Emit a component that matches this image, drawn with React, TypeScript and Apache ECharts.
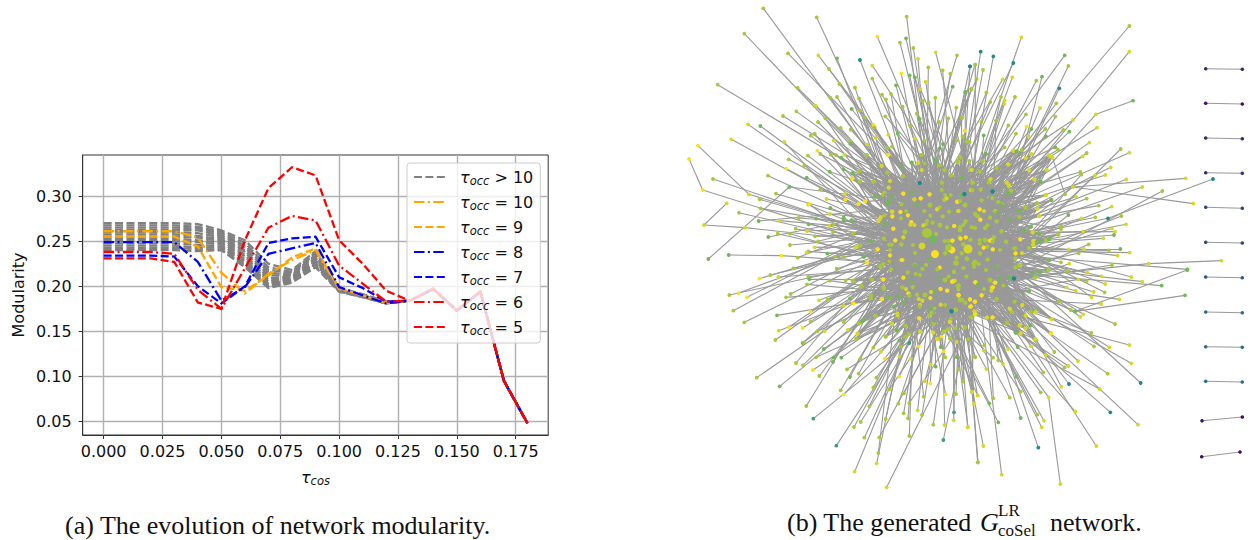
import React, { useEffect, useRef } from "react";
import * as echarts from "echarts";

const tauCos = [0, 0.01, 0.02, 0.03, 0.04, 0.05, 0.06, 0.07, 0.08, 0.09, 0.1, 0.11, 0.12, 0.13, 0.14, 0.15, 0.16, 0.17, 0.18];
const xTicks = [0, 0.025, 0.05, 0.075, 0.1, 0.125, 0.15, 0.175];
const yTicks = [0.05, 0.1, 0.15, 0.2, 0.25, 0.3];
const tail = [0.184, 0.197, 0.173, 0.194, 0.095, 0.048];

const occ5 = [0.231, 0.231, 0.231, 0.227, 0.182, 0.175, 0.251, 0.309, 0.332, 0.323, 0.251, 0.225, 0.195];
const occ6 = [0.238, 0.238, 0.238, 0.236, 0.196, 0.175, 0.22, 0.265, 0.278, 0.273, 0.223, 0.203, 0.183];
const occ7 = [0.234, 0.234, 0.234, 0.233, 0.2, 0.181, 0.2, 0.248, 0.253, 0.255, 0.21, 0.198, 0.183];
const occ8 = [0.249, 0.249, 0.249, 0.249, 0.227, 0.184, 0.199, 0.236, 0.242, 0.248, 0.199, 0.19, 0.181];
const occ9 = [0.255, 0.255, 0.255, 0.255, 0.244, 0.199, 0.195, 0.212, 0.232, 0.242, 0.198, 0.19, 0.182];
const occ10 = [0.261, 0.261, 0.261, 0.261, 0.254, 0.215, 0.192, 0.214, 0.229, 0.24, 0.197, 0.19, 0.181];
const grayRows = [
  [0.24, 0.24, 0.24, 0.24, 0.239, 0.24, 0.221, 0.198, 0.204, 0.221, 0.194, 0.188, 0.181],
  [0.2425, 0.2425, 0.2425, 0.2425, 0.241, 0.241, 0.223, 0.199, 0.205, 0.223, 0.194, 0.188, 0.181],
  [0.245, 0.245, 0.245, 0.245, 0.243, 0.243, 0.225, 0.2, 0.206, 0.225, 0.195, 0.188, 0.181],
  [0.2475, 0.2475, 0.2475, 0.2475, 0.246, 0.244, 0.228, 0.202, 0.207, 0.226, 0.195, 0.189, 0.181],
  [0.25, 0.25, 0.25, 0.25, 0.249, 0.246, 0.23, 0.203, 0.208, 0.228, 0.195, 0.189, 0.182],
  [0.2525, 0.2525, 0.2525, 0.2525, 0.251, 0.248, 0.233, 0.205, 0.209, 0.229, 0.196, 0.189, 0.182],
  [0.255, 0.255, 0.255, 0.255, 0.254, 0.25, 0.235, 0.207, 0.21, 0.231, 0.196, 0.19, 0.182],
  [0.2575, 0.2575, 0.2575, 0.2575, 0.256, 0.252, 0.238, 0.209, 0.211, 0.232, 0.196, 0.19, 0.182],
  [0.26, 0.26, 0.26, 0.26, 0.259, 0.254, 0.24, 0.212, 0.212, 0.234, 0.197, 0.19, 0.182],
  [0.2625, 0.2625, 0.2625, 0.2625, 0.262, 0.256, 0.243, 0.215, 0.213, 0.235, 0.197, 0.19, 0.182],
  [0.265, 0.265, 0.265, 0.265, 0.264, 0.258, 0.245, 0.218, 0.215, 0.236, 0.197, 0.191, 0.183],
  [0.2675, 0.2675, 0.2675, 0.2675, 0.266, 0.26, 0.248, 0.221, 0.216, 0.238, 0.198, 0.191, 0.183],
  [0.27, 0.27, 0.27, 0.27, 0.269, 0.262, 0.251, 0.225, 0.218, 0.239, 0.198, 0.191, 0.183],
];

const Y = "#fde01c", L = "#d5d829", G = "#a8c83c", M = "#74b75a", S = "#3ea07c", T = "#1f8a8c";

// Positions, in the 3x crop coordinates of each quarter.
const nodesNW: any[] = [[250,25,G],[410,52,G],[680,50,G],[193,101,G],[592,110,Y],[660,128,G],[678,115,M],[700,144,G],[324,160,G],[415,166,L],[471,175,M],[540,180,T],[767,157,L],[831,166,G],[714,176,L],[577,197,L],[447,207,G],[745,202,G],[788,211,G],[811,221,G],[870,199,T],[885,194,G],[664,220,Y],[689,226,M],[705,232,M],[737,245,L],[577,236,G],[478,252,G],[113,254,G],[353,264,G],[525,263,G],[648,256,M],[721,267,L],[818,260,M],[874,267,G],[856,276,M],[606,284,G],[633,282,G],[471,291,G],[451,293,G],[537,295,G],[618,298,G],[766,293,G],[729,303,G],[746,308,G],[407,317,L],[668,320,G],[829,323,G],[349,334,G],[515,327,M],[540,331,G],[710,341,G],[309,348,G],[436,355,G],[554,352,G],[616,349,G],[719,357,M],[805,355,G],[845,354,G],[777,366,G],[414,366,G],[204,373,L],[241,378,M],[580,375,Y],[691,377,G],[584,382,G],[482,384,G],[512,389,G],[854,392,Y],[392,407,G],[404,401,G],[625,404,L],[653,401,M],[587,414,L],[705,416,L],[849,409,G],[154,418,L],[313,426,L],[461,422,L],[511,422,G],[733,422,G],[831,421,G],[860,425,G],[868,426,G],[54,437,Y],[511,432,M],[561,433,L],[789,432,M],[621,444,G],[636,440,G],[779,445,M],[412,452,Y],[421,462,G],[452,464,G],[468,465,G],[493,464,L],[484,473,M],[560,465,G],[624,465,L],[725,465,G],[842,473,G],[27,477,Y],[384,467,G],[326,478,G],[768,481,M],[836,486,L],[714,488,L],[734,491,G],[695,488,M],[605,497,L],[778,496,G],[373,496,G],[491,508,M],[319,506,Y],[449,515,M],[538,514,G],[622,517,G],[517,520,M],[794,510,G],[874,510,L],[726,512,G],[264,527,G],[99,537,G],[380,533,M],[516,536,Y],[670,529,G],[813,526,G],[580,545,G],[540,544,G],[630,543,G],[719,549,T],[846,534,M],[786,548,G],[878,548,G],[328,561,M],[626,563,L],[68,570,Y],[872,570,L],[853,582,T],[421,568,G],[288,581,G],[207,583,L],[495,582,L],[612,578,G],[670,581,Y],[748,583,L],[812,585,G],[722,595,Y],[440,597,L],[239,598,G],[496,599,Y],[555,604,L],[703,598,L],[793,600,L],[831,606,L],[586,590,G],[384,614,L],[388,612,Y],[536,612,L],[140,610,L],[242,625,G],[451,624,M],[628,606,M],[620,612,M],[665,613,M],[711,613,M],[177,638,G],[450,642,L],[356,654,G],[408,656,M],[491,652,M],[514,662,M],[491,660,M],[298,662,L],[236,663,M],[662,636,L],[636,636,L],[637,650,L],[600,656,L],[596,663,L],[72,675,L],[386,673,M],[448,678,L],[461,673,G],[615,672,M],[195,683,L],[347,686,G],[381,693,L],[640,686,Y],[459,696,G],[293,701,G],[330,701,G],[519,701,G],[405,709,G],[265,711,M],[414,724,G],[611,715,G],[671,711,M],[572,724,M],[330,735,G],[540,737,G],[404,742,L],[530,741,L],[645,721,L],[664,733,L],[593,747,L],[385,754,G],[380,758,L],[442,761,M],[146,765,M],[304,767,Y],[465,770,G],[490,770,G],[550,770,M],[353,773,G],[668,780,L],[85,777,M],[560,787,L],[628,784,G],[340,805,G],[470,806,G],[600,798,G]];

const nodesNE: any[] = [[508,78,G],[184,112,L],[508,155,L],[62,155,T],[100,169,T],[314,166,M],[30,199,T],[46,194,G],[160,189,T],[69,210,G],[325,198,G],[50,237,G],[128,238,L],[157,232,L],[246,230,M],[229,242,G],[298,265,T],[34,268,G],[16,276,M],[79,278,G],[519,302,M],[165,291,G],[123,291,G],[134,301,L],[133,312,L],[91,306,G],[289,310,G],[240,324,L],[198,343,G],[408,343,L],[286,350,G],[339,360,L],[6,354,G],[64,366,G],[108,362,G],[145,376,G],[200,380,Y],[411,383,L],[214,387,M],[256,387,G],[310,390,G],[328,395,M],[14,392,Y],[168,401,G],[206,410,L],[258,409,M],[8,410,G],[71,406,M],[388,428,L],[20,425,G],[28,427,G],[134,442,G],[286,442,M],[294,449,G],[482,447,G],[185,450,G],[161,452,L],[170,455,M],[508,458,L],[78,462,M],[380,459,G],[368,469,L],[268,466,L],[277,472,L],[213,463,L],[197,475,L],[68,485,G],[144,493,L],[452,502,L],[110,506,M],[34,510,L],[208,511,L],[259,511,G],[361,516,G],[364,524,G],[60,515,G],[405,527,L],[436,525,L],[223,538,L],[241,545,G],[90,538,G],[499,538,L],[677,535,L],[140,548,Y],[88,546,Y],[37,548,L],[6,534,M],[339,561,L],[547,561,L],[146,560,G],[153,572,L],[36,571,L],[62,569,G],[97,575,T],[13,583,T],[144,579,M],[607,573,G],[315,583,G],[258,585,L],[348,590,L],[380,596,G],[274,600,G],[65,601,G],[3,586,G],[700,611,L],[230,609,G],[416,617,G],[455,620,L],[197,623,G],[232,626,L],[115,606,G],[127,612,G],[59,628,Y],[178,633,M],[325,645,M],[484,648,G],[177,650,M],[238,649,L],[107,633,L],[45,641,G],[53,648,L],[406,652,G],[364,655,L],[444,655,T],[61,659,Y],[90,653,G],[110,664,G],[150,659,M],[498,673,L],[456,685,L],[304,679,G],[212,680,M],[303,687,G],[124,694,G],[36,682,G],[76,684,G],[16,666,G],[465,695,L],[370,694,L],[218,697,L],[294,703,L],[462,705,M],[237,702,M],[430,715,L],[181,718,L],[259,722,L],[267,719,M],[238,724,M],[18,712,L],[88,722,L],[99,715,L],[59,720,G],[32,719,G],[139,726,G],[220,723,L],[219,734,L],[386,733,G],[166,744,G],[205,744,M],[326,748,L],[372,747,L],[447,751,G],[481,747,M],[509,758,L],[71,743,L],[99,748,L],[10,733,L],[166,760,L],[186,760,G],[356,760,G],[473,767,L],[60,760,G],[44,787,G],[784,782,L],[566,791,L],[456,795,G],[328,791,L],[303,787,G],[267,781,G],[21,778,G],[83,778,G],[180,797,L],[110,801,G],[682,808,M],[759,537,T]];

const nodesSW: any[] = [[238,26,Y],[271,15,G],[295,21,L],[385,20,G],[388,28,M],[148,75,G],[176,69,Y],[201,82,Y],[332,72,G],[318,82,G],[381,43,G],[449,32,G],[497,31,G],[518,32,G],[577,30,G],[609,29,Y],[545,48,G],[612,54,L],[417,91,L],[443,88,G],[510,85,M],[573,85,G],[606,87,Y],[627,83,G],[657,81,M],[491,108,L],[520,100,Y],[160,122,G],[391,124,Y],[291,136,M],[652,130,L],[587,139,G],[193,157,G],[392,154,G],[491,156,G],[535,160,G],[549,152,M],[636,161,L],[677,168,M],[296,182,L],[327,171,Y],[368,174,Y],[412,184,G],[434,183,L],[504,179,L],[652,182,G],[533,191,L],[721,184,L],[286,210,G],[530,206,G],[617,200,Y],[658,212,M],[368,219,M],[372,217,G],[663,230,G],[688,219,S],[716,229,Y],[431,237,M],[580,233,G],[603,245,L],[658,259,L],[461,263,M],[484,263,M],[541,265,G],[614,266,Y],[692,266,L],[348,279,G],[459,276,M],[369,286,G],[408,262,G],[399,300,Y],[501,298,G],[418,318,G],[536,311,G],[510,321,M],[230,323,G],[299,349,M],[589,323,G],[658,320,Y],[735,333,L],[751,340,Y],[580,352,G],[628,358,G],[482,361,G],[491,374,Y],[672,370,G],[731,380,G],[379,408,G],[655,401,G],[688,399,G],[568,409,G],[400,446,S],[617,447,G],[671,430,G],[684,445,G],[713,421,L],[726,435,G],[542,456,G],[522,471,G],[760,464,G],[794,465,L],[553,503,G],[598,502,G],[688,498,G],[469,527,S],[790,510,S],[595,549,G],[590,580,L],[524,605,L],[620,652,L],[797,373,Y],[828,372,G],[752,283,L],[767,290,M],[796,262,G],[830,261,M],[836,299,G],[849,334,G],[822,427,S],[821,451,L],[864,471,L],[893,577,G],[876,366,G],[893,376,Y],[883,401,Y],[813,123,S],[791,244,Y],[782,231,M],[830,216,L],[772,208,Y],[784,200,Y],[759,187,Y],[792,185,L],[809,156,Y],[805,179,G],[827,174,G],[717,145,L],[757,160,M],[763,115,G],[753,115,G],[885,260,G],[865,208,G],[854,171,G],[885,127,G],[873,141,M],[870,88,Y],[836,74,Y],[836,50,G],[762,68,M],[755,65,G],[781,56,Y],[801,62,Y],[820,33,Y],[885,37,Y],[884,95,Y],[870,110,Y],[720,105,Y],[716,87,L],[685,70,M],[653,137,L]];

const nodesSE: any[] = [[682,0,M],[514,21,L],[547,35,L],[605,47,M],[675,76,M],[436,42,L],[401,66,L],[434,67,G],[395,82,L],[478,88,L],[424,102,L],[355,28,L],[382,8,L],[425,19,L],[380,33,G],[347,62,L],[320,52,L],[297,95,G],[332,120,G],[346,124,M],[370,133,L],[361,141,L],[465,162,G],[394,189,G],[274,148,L],[228,127,L],[214,125,M],[197,137,L],[148,115,L],[155,126,L],[187,105,L],[508,225,L],[448,232,L],[402,229,G],[514,280,L],[273,189,L],[229,211,G],[213,229,L],[173,231,M],[144,237,L],[257,255,L],[283,246,G],[354,273,L],[325,288,L],[314,292,G],[542,339,T],[443,311,G],[250,307,G],[304,350,L],[327,342,T],[419,357,L],[182,365,G],[242,367,G],[266,382,L],[451,427,T],[346,425,L],[534,464,L],[409,528,L],[232,434,G],[252,452,L],[245,472,L],[182,444,M],[235,533,T],[115,457,M],[149,383,G],[100,385,G],[88,400,M],[169,320,M],[129,282,L],[115,271,G],[99,263,G],[73,226,G],[71,242,L],[46,262,G],[79,297,L],[37,366,L],[53,377,L],[42,402,L],[9,334,G],[23,472,L],[70,528,L],[54,577,G],[125,614,L],[301,642,L],[180,165,L],[196,175,L],[167,187,M],[182,190,Y],[140,159,G],[211,165,M],[25,210,M],[14,172,G],[81,142,L],[97,142,L],[39,135,M],[45,128,L],[33,108,L],[30,89,L],[45,95,L],[65,75,L],[110,86,G],[164,96,M],[149,22,M],[161,25,T],[118,26,M],[130,47,G],[95,52,L],[103,38,L],[46,36,L],[53,42,M],[207,62,G],[218,10,M],[239,6,G],[226,22,G],[321,3,G],[265,2,G]];

const nodesCoreW: any[] = [[50,15,G],[115,15,Y],[95,48,L],[153,50,M],[185,38,M],[205,38,L],[215,15,G],[257,30,M],[322,35,L],[268,45,G],[215,60,L],[283,60,G],[28,63,G],[8,70,M],[112,68,G],[158,78,G],[304,75,G],[6,86,Y],[70,95,G],[30,95,G],[120,93,L],[209,99,T],[275,98,G],[116,113,L],[275,120,G],[185,127,M],[160,131,Y],[239,133,Y],[98,134,G],[76,138,M],[124,140,M],[284,148,G],[193,148,L],[212,145,Y],[290,145,L],[322,156,L],[45,155,Y],[115,158,M],[25,162,Y],[154,163,G],[200,164,M],[268,172,G],[261,178,L],[223,183,G],[297,185,G],[127,185,L],[151,186,Y],[325,183,L],[174,196,Y],[103,196,G],[241,197,G],[278,199,G],[92,202,L],[87,210,L],[127,199,Y],[153,205,G],[231,213,G],[5,211,M],[248,218,G],[184,216,Y],[105,223,M],[229,222,G],[181,224,L],[193,225,L],[220,226,L],[312,228,L],[130,236,Y],[291,232,G],[160,262,L],[10,250,G],[258,252,G],[136,271,Y],[102,266,G],[62,273,M],[284,273,G],[306,272,L],[328,262,G],[295,273,G],[118,284,G],[125,284,G],[154,283,G],[189,285,G],[19,291,L],[31,286,G],[83,298,Y],[298,295,G],[195,309,G],[285,310,G],[120,316,Y],[42,320,M],[237,328,M],[155,330,Y],[52,338,Y],[100,342,G],[91,352,G],[228,345,G],[195,347,M],[269,353,Y],[217,357,G],[262,358,G],[123,358,G],[173,367,G],[312,365,G],[197,372,G],[210,375,G],[296,380,G],[160,383,Y],[268,385,M],[8,392,G],[66,390,G],[100,388,Y],[186,393,M],[309,394,Y],[323,408,G],[34,409,G],[157,412,G],[188,411,G],[101,416,G],[272,417,Y],[292,422,Y],[251,424,M],[243,426,L],[175,430,Y],[201,434,G],[325,435,Y],[178,437,G],[63,437,G],[146,441,M],[116,441,M],[62,445,G],[96,447,Y],[241,444,Y],[217,452,L],[10,460,Y],[161,458,M],[272,464,L],[209,469,G],[132,470,M],[243,476,M],[304,484,S],[316,479,G],[142,492,L],[245,488,G],[237,497,G],[77,498,G],[208,505,Y],[300,516,L],[40,511,M],[126,522,L],[27,520,G],[250,522,G],[167,527,G],[293,538,G],[280,547,G],[140,541,M],[211,545,L],[176,552,G],[23,551,L],[250,548,L],[107,560,G],[262,566,L],[19,566,G],[165,560,G]];

const nodesCoreE: any[] = [[107,12,M],[190,2,L],[200,4,M],[227,24,L],[245,12,L],[297,16,L],[306,22,L],[30,22,G],[22,35,G],[98,33,G],[58,33,G],[175,43,L],[140,55,G],[65,60,L],[90,65,G],[237,61,L],[290,60,L],[37,83,M],[3,76,G],[122,87,L],[253,88,L],[272,95,M],[116,97,G],[68,98,G],[170,98,L],[177,107,L],[67,120,G],[92,118,G],[128,124,T],[182,123,G],[175,130,M],[287,135,L],[34,135,M],[43,132,T],[127,144,G],[304,150,M],[95,151,G],[22,155,Y],[30,153,G],[145,156,G],[153,165,M],[261,160,G],[226,173,G],[262,176,L],[89,178,Y],[134,183,G],[25,183,L],[207,184,M],[75,192,G],[143,188,M],[81,197,G],[268,198,L],[120,203,G],[208,201,G],[91,209,Y],[180,208,M],[140,214,G],[47,214,G],[40,225,G],[30,231,G],[13,228,Y],[65,231,G],[105,234,G],[112,226,G],[75,234,G],[243,230,M],[155,244,G],[222,242,M],[248,247,L],[267,252,M],[325,253,G],[132,262,G],[32,266,Y],[47,262,Y],[211,268,Y],[8,272,Y],[61,270,G],[121,272,Y],[128,275,G],[168,275,G],[289,270,G],[297,267,M],[250,274,L],[40,283,G],[250,285,L],[268,273,M],[90,281,G],[112,290,G],[193,295,G],[237,294,G],[101,293,Y],[128,298,Y],[35,310,G],[90,310,G],[197,310,Y],[216,309,L],[20,323,G],[50,325,G],[196,326,G],[113,329,G],[297,330,M],[86,342,G],[71,340,G],[72,350,G],[207,346,G],[40,354,G],[139,352,M],[196,352,G],[12,366,G],[108,360,G],[295,357,G],[248,370,M],[270,366,M],[49,379,G],[255,383,G],[149,386,M],[179,382,M],[192,386,T],[136,398,Y],[14,392,L],[6,395,Y],[77,397,Y],[129,412,Y],[124,422,L],[26,406,G],[84,404,M],[25,418,G],[95,436,Y],[237,424,M],[26,436,Y],[140,447,G],[60,448,Y],[194,455,G],[75,455,Y],[37,450,G],[46,458,G],[62,470,Y],[5,484,T],[18,480,G],[217,465,L],[73,484,L],[75,493,Y],[180,477,L],[186,486,G],[227,497,L],[256,487,L],[242,485,G],[63,501,G],[111,503,L],[128,502,Y],[2,507,G],[305,507,L],[0,516,L],[171,518,G],[241,526,M],[44,533,G],[209,526,L],[226,535,L],[197,548,M],[212,550,L],[303,550,Y],[256,567,L],[55,567,G],[0,565,G]];

// Central hubs, in page pixels: x, y, diameter, colour.
const hubs: any[] = [[927,233,10,G],[933,239,8,M],[922,246,7,L],[935,254,8,Y],[949,248,8,G],[968,249,9,L],[952,250,7,Y],[956,263,6,G],[940,225,5,G],[960,230,5,G],[975,262,5,G],[915,265,5,G],[945,280,5,G],[985,240,5,G],[905,232,5,G],[930,205,5,G],[965,205,5,G],[990,280,5,G],[925,295,5,G],[960,300,5,G]];
const ringHubs: any[] = [[890,250,4,G],[1000,250,4,G],[945,195,4,G],[945,305,4,G],[906,211,4,G],[984,211,4,L],[906,289,4,L],[984,289,4,G]];

// Pendant pairs on the right edge.
const pairs: any[] = [
  [1205.7,68.7,1242.3,69.3,"#3b2a72"],[1205.7,103.3,1242.3,104,"#450f6a"],[1205.7,138,1242.3,138.7,"#3b2a72"],
  [1205.7,172.7,1242.3,173.3,"#3e2f7a"],[1205.7,207.3,1242.3,208.3,"#34457f"],[1205.7,242.3,1242.3,243,"#33467f"],
  [1205.7,277,1242.3,277.7,"#2e5a88"],[1205.7,312,1242.3,312.7,"#2e6c8e"],[1205.7,346.7,1242.3,347.3,"#2e6c8e"],
  [1205.7,381.3,1242.3,382,"#2e6c8e"],[1202,420.7,1242.3,417,"#440d64"],[1201.7,456.7,1240,452,"#440d64"],
];

// Leaves that hang off another leaf rather than off the core: region, from x,y, to x,y.
const chains: number[][] = [
  [0,27,477,68,570],[0,54,437,207,583],[0,140,610,72,675],[0,72,675,195,683],[0,85,777,328,561],[0,146,765,304,767],
  [1,700,611,339,561],[1,677,535,339,561],[1,784,782,566,791],[1,759,537,444,655],[1,519,302,408,343],[1,315,583,277,472],
  [3,682,0,346,124],[3,675,76,346,124],[3,301,642,266,382],
];

const legendNames = ["τocc > 10", "τocc = 10", "τocc = 9", "τocc = 8", "τocc = 7", "τocc = 6", "τocc = 5"];

function buildNetwork() {
  const nodes: any[] = [];
  const links: any[] = [];
  const add = (x: number, y: number, size: number, color: string) => {
    nodes.push({ value: [x, y], symbolSize: size, itemStyle: { color } });
    return nodes.length - 1;
  };
  const hubIdx = hubs.map((h) => add(h[0], h[1], h[2], h[3]));
  const ringIdx = ringHubs.map((h) => add(h[0], h[1], h[2], h[3]));
  const regions = [
    { dx: 680, dy: 0, list: nodesNW, size: 3.8 },
    { dx: 960, dy: 0, list: nodesNE, size: 3.8 },
    { dx: 680, dy: 270, list: nodesSW, size: 3.8 },
    { dx: 960, dy: 270, list: nodesSE, size: 3.8 },
  ];
  const index = new Map<string, number>();
  regions.forEach((r, ri) => {
    r.list.forEach((n) => index.set(`${ri}:${n[0]},${n[1]}`, add(r.dx + n[0] / 3, r.dy + n[1] / 3, r.size, n[2])));
  });
  const chained = new Set<number>();
  chains.forEach((c) => {
    const a = index.get(`${c[0]}:${c[1]},${c[2]}`);
    const b = index.get(`${c[0]}:${c[3]},${c[4]}`);
    if (a !== undefined && b !== undefined) {
      links.push({ source: a, target: b });
      chained.add(a);
    }
  });
  let k = 0;
  regions.forEach((r, ri) => {
    r.list.forEach((n) => {
      const a = index.get(`${ri}:${n[0]},${n[1]}`)!;
      k += 1;
      if (!chained.has(a)) links.push({ source: a, target: hubIdx[k % hubIdx.length] });
    });
  });
  [{ dx: 850, list: nodesCoreW }, { dx: 950, list: nodesCoreE }].forEach((r) => {
    r.list.forEach((n) => {
      const a = add(r.dx + n[0] / 3, 150 + n[1] / 3, 4.2, n[2]);
      k += 3;
      links.push({ source: a, target: hubIdx[k % hubIdx.length] });
      links.push({ source: a, target: hubIdx[(k + 7) % hubIdx.length] });
      links.push({ source: a, target: hubIdx[(k + 13) % hubIdx.length] });
      links.push({ source: a, target: ringIdx[k % ringIdx.length] });
    });
  });
  pairs.forEach((p) => {
    const a = add(p[0], p[1], 3.6, p[4]);
    const b = add(p[2], p[3], 3.6, p[4]);
    links.push({ source: a, target: b });
  });
  return { nodes, links };
}

const sans = "DejaVu Sans";
const mathRich = {
  i: { fontFamily: sans, fontStyle: "italic", fontSize: 16, color: "#111", verticalAlign: "middle" },
  s: { fontFamily: sans, fontStyle: "italic", fontSize: 11.5, color: "#111", verticalAlign: "bottom", lineHeight: 20 },
  r: { fontFamily: sans, fontSize: 16, color: "#111", verticalAlign: "middle" },
};

const dashed = [8, 3.4];
const dashDot = [10.5, 3.4, 2, 3.4];

function lineSeries(name: string, head: number[], color: string, dash: number[]) {
  return {
    type: "line",
    name,
    xAxisIndex: 0,
    yAxisIndex: 0,
    data: head.concat(tail).map((v, i) => [tauCos[i], v]),
    showSymbol: false,
    symbol: "none",
    silent: true,
    lineStyle: { color, width: 2.3, type: dash, cap: "butt", join: "miter" },
    itemStyle: { color },
  };
}

function serifText(text: string, x: number, y: number, fontSize: number, extra: any = {}) {
  return {
    type: "text",
    x,
    y,
    silent: true,
    style: { text, fontFamily: "Liberation Serif", fontSize, fill: "#111", verticalAlign: "middle", ...extra },
  };
}

export default function App() {
  const ref = useRef<HTMLDivElement>(null);
  useEffect(() => {
    const chart = echarts.init(ref.current!, undefined, { renderer: "svg" });
    const net = buildNetwork();
    const axisColor = "#333";
    chart.setOption({
      animation: false,
      backgroundColor: "#fff",
      grid: [
        { left: 82.7, top: 155, width: 465.5, height: 280, show: true, borderColor: axisColor, borderWidth: 1, backgroundColor: "transparent", containLabel: false },
        { left: 680, top: 0, width: 572, height: 540, show: false },
      ],
      xAxis: [
        {
          type: "value", gridIndex: 0, min: -0.0089, max: 0.1888,
          name: "{i|τ}{s|cos}", nameLocation: "middle", nameGap: 32,
          nameTextStyle: { rich: mathRich },
          axisLine: { show: true, onZero: false, lineStyle: { color: axisColor } },
          axisTick: { show: true, length: 4, customValues: xTicks, lineStyle: { color: axisColor } },
          axisLabel: { show: true, customValues: xTicks, margin: 8, color: "#111", fontFamily: sans, fontSize: 16, formatter: (v: number) => v.toFixed(3), showMinLabel: true, showMaxLabel: true },
          splitLine: { show: true, customValues: xTicks, lineStyle: { color: "#b0b0b0", width: 1.4 } },
        },
        { type: "value", gridIndex: 1, min: 680, max: 1252, show: false },
      ],
      yAxis: [
        {
          type: "value", gridIndex: 0, min: 0.035, max: 0.3456,
          name: "Modularity", nameLocation: "middle", nameGap: 56,
          nameTextStyle: { fontFamily: sans, fontSize: 16, color: "#111" },
          axisLine: { show: true, onZero: false, lineStyle: { color: axisColor } },
          axisTick: { show: true, length: 4, customValues: yTicks, lineStyle: { color: axisColor } },
          axisLabel: { show: true, customValues: yTicks, margin: 11, color: "#111", fontFamily: sans, fontSize: 16, formatter: (v: number) => v.toFixed(2) },
          splitLine: { show: true, customValues: yTicks, lineStyle: { color: "#b0b0b0", width: 1.4 } },
        },
        { type: "value", gridIndex: 1, min: 0, max: 540, inverse: true, show: false },
      ],
      legend: {
        show: true,
        data: legendNames,
        orient: "vertical",
        left: 407,
        top: 163,
        padding: [6, 7, 6, 6],
        itemWidth: 33,
        itemHeight: 14,
        itemGap: 7,
        backgroundColor: "rgba(255,255,255,0.8)",
        borderColor: "#ccc",
        borderWidth: 1,
        borderRadius: 3,
        itemStyle: { opacity: 0, color: "transparent", borderWidth: 0 },
        formatter: (n: string) => `{i|τ}{s|occ}{r| ${n.slice(5)}}`,
        textStyle: { rich: mathRich, fontFamily: sans, fontSize: 16, padding: [0, 0, 0, 8] },
      },
      series: [
        ...grayRows.map((r) => lineSeries(legendNames[0], r, "#808080", dashed)),
        lineSeries(legendNames[1], occ10, "#ffa500", dashDot),
        lineSeries(legendNames[2], occ9, "#ffa500", dashed),
        lineSeries(legendNames[3], occ8, "#0000ff", dashDot),
        lineSeries(legendNames[4], occ7, "#0000ff", dashed),
        lineSeries(legendNames[5], occ6, "#ff0000", dashDot),
        lineSeries(legendNames[6], occ5, "#ff0000", dashed),
        {
          type: "graph",
          coordinateSystem: "cartesian2d",
          xAxisIndex: 1,
          yAxisIndex: 1,
          layout: "none",
          silent: true,
          data: net.nodes,
          links: net.links,
          symbol: "circle",
          label: { show: false },
          edgeSymbol: ["none", "none"],
          lineStyle: { color: "#999", width: 1.1, opacity: 1, curveness: 0 },
        },
      ],
      graphic: [
        serifText("(a) The evolution of network modularity.", 65, 525, 26),
        serifText("(b) The generated", 787, 522.5, 26),
        serifText("G", 980, 522.5, 26, { fontStyle: "italic" }),
        serifText("LR", 998, 510, 17),
        serifText("coSel", 998, 530.5, 17),
        serifText("network.", 1050, 522.5, 26),
      ],
    });
    return () => chart.dispose();
  }, []);
  return <div ref={ref} style={{ position: "absolute", left: 0, top: 0, width: 1252, height: 540 }} />;
}
